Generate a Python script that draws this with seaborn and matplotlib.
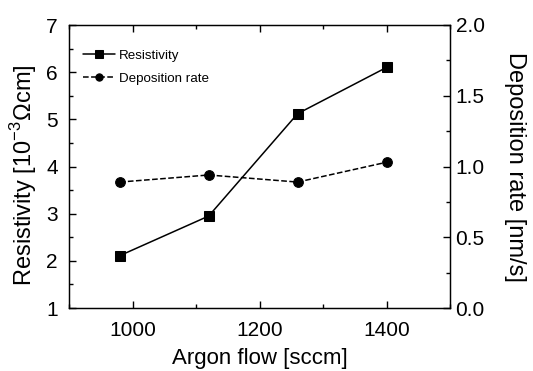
import matplotlib
matplotlib.use("Agg")
import matplotlib.pyplot as plt
import seaborn as sns
import pandas as pd
from matplotlib.ticker import MultipleLocator

argon_flow = [980, 1120, 1260, 1400]
resistivity = [2.11, 2.95, 5.12, 6.10]
deposition_rate = [0.89, 0.94, 0.89, 1.03]

sns.set_style("ticks")
plt.rcParams['font.family'] = ['Liberation Sans', 'DejaVu Sans']
plt.rcParams['mathtext.fontset'] = 'custom'
plt.rcParams['mathtext.rm'] = 'Liberation Sans'
plt.rcParams['axes.axisbelow'] = False
plt.rcParams['xtick.color'] = 'black'
plt.rcParams['ytick.color'] = 'black'
plt.rcParams['axes.edgecolor'] = 'black'
plt.rcParams['text.color'] = 'black'
plt.rcParams['axes.labelcolor'] = 'black'

df = pd.DataFrame({"flow": argon_flow, "res": resistivity, "dep": deposition_rate})

fig = plt.figure(figsize=(5.33, 3.71), dpi=100)
ax = fig.add_axes([69/533, 1-308/371, (450-69)/533, (308-25)/371])
ax2 = ax.twinx()

sns.lineplot(data=df, x="flow", y="res", ax=ax, color="black", marker="s",
             markersize=7, markeredgecolor="black", linewidth=1.1, label="Resistivity", legend=False)
sns.lineplot(data=df, x="flow", y="dep", ax=ax2, color="black", marker="o",
             markersize=7, markeredgecolor="black", linewidth=1.1, linestyle="--",
             label="Deposition rate", legend=False)

ax.set_xlim(900, 1500)
ax.set_ylim(1, 7)
ax2.set_ylim(0, 2.0)
ax.xaxis.set_major_locator(MultipleLocator(200))
ax.xaxis.set_minor_locator(MultipleLocator(100))
ax.yaxis.set_major_locator(MultipleLocator(1))
ax.yaxis.set_minor_locator(MultipleLocator(0.5))
ax2.set_yticks([0, 0.5, 1.0, 1.5, 2.0])
ax2.set_yticklabels(["0.0", "0.5", "1.0", "1.5", "2.0"])
ax2.yaxis.set_minor_locator(MultipleLocator(0.25))

ax.tick_params(axis="x", which="both", direction="in", top=True, bottom=True, labelsize=15, pad=9)
ax.tick_params(axis="y", which="both", direction="in", left=True, right=False, labelsize=15, pad=8)
ax.tick_params(which="major", length=5, width=1.0, color="black")
ax.tick_params(which="minor", length=3, width=1.0, color="black")
ax2.tick_params(axis="y", which="both", direction="in", right=True, left=False, labelsize=15, pad=4)
ax2.tick_params(which="major", length=5, width=1.0, color="black")
ax2.tick_params(which="minor", length=3, width=1.0, color="black")
ax2.tick_params(axis="x", which="both", top=False, bottom=False)

for a in (ax, ax2):
    for s in a.spines.values():
        s.set_linewidth(0.9)
        s.set_color("black")
        s.set_visible(True)

ax.set_xlabel("Argon flow [sccm]", fontsize=16, labelpad=6)
ax.set_ylabel(r"Resistivity [10$^{-3}$$\Omega$cm]", fontsize=17)
ax.yaxis.set_label_coords(-0.08, 0.47)
ax2.set_ylabel("Deposition rate [nm/s]", fontsize=17, rotation=270, labelpad=30)

h1, l1 = ax.get_legend_handles_labels()
h2, l2 = ax2.get_legend_handles_labels()
ax.legend(h1 + h2, l1 + l2, loc="upper left", frameon=False, fontsize=9.6,
          handlelength=2.4, markerscale=0.75, bbox_to_anchor=(0.005, 0.955),
          handletextpad=0.3, labelspacing=0.8)

fig.savefig("out.png", dpi=100)
